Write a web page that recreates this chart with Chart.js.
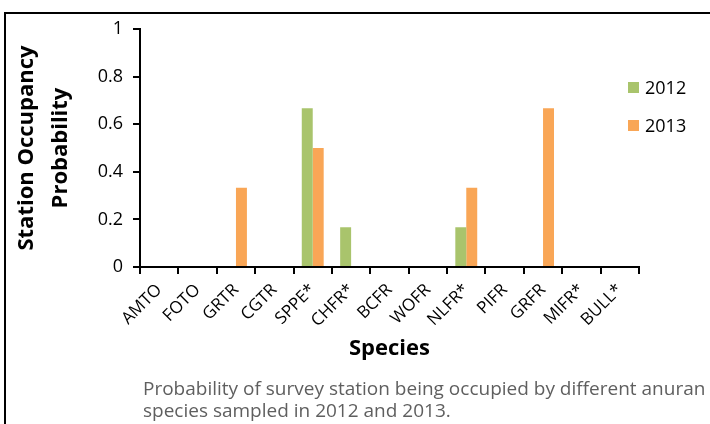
<!DOCTYPE html>
<html>
<head>
<meta charset="utf-8">
<script src="https://cdn.jsdelivr.net/npm/chart.js@4.4.1/dist/chart.umd.min.js"></script>
<style>
  body { margin: 0; background: #fff; font-family: 'Open Sans', sans-serif; }
  #wrap { position: relative; width: 710px; height: 424px; overflow: hidden; }
  #cadre { position: absolute; left: 4px; top: 12px; width: 800px; height: 500px;
           border-top: 2px solid #000; border-left: 2px solid #000; }
  #grafico { position: absolute; left: 0; top: 0; }
  #legenda { position: absolute; left: 628px; top: 76px; }
  .item { display: flex; align-items: center; height: 22px; margin-bottom: 16px; font-size: 18px; color: #000; }
  .caixa { width: 11px; height: 11px; margin-right: 6px; }
  #legenda-texto { position: absolute; left: 143px; top: 377px; font-size: 19px; line-height: 22px; color: #5f5f5f; white-space: nowrap; }
</style>
</head>
<body>
<div id="wrap">
  <div id="cadre"></div>
  <canvas id="grafico" width="710" height="424"></canvas>
  <div id="legenda"></div>
  <div id="legenda-texto">Probability of survey station being occupied by different anuran<br>species sampled in 2012 and 2013.</div>
</div>
<script>
// Dados
const especies = ['AMTO', 'FOTO', 'GRTR', 'CGTR', 'SPPE*', 'CHFR*', 'BCFR', 'WOFR', 'NLFR*', 'PIFR', 'GRFR', 'MIFR*', 'BULL*'];
const prob2012 = [0, 0, 0, 0, 0.667, 0.167, 0, 0, 0.167, 0, 0, 0, 0];
const prob2013 = [0, 0, 0.333, 0, 0.5, 0, 0, 0, 0.333, 0, 0.667, 0, 0];
const anos = ['2012', '2013'];
const cores = ['#A9C46C', '#F9A656'];

const fonte = 'Open Sans';

const datasets = [prob2012, prob2013].map((valores, i) => ({
  label: anos[i],
  data: valores,
  backgroundColor: cores[i],
  borderWidth: 0
}));

const grafico = new Chart(document.getElementById('grafico'), {
  type: 'bar',
  data: { labels: especies, datasets },
  options: {
    responsive: false,
    animation: false,
    devicePixelRatio: 1,
    layout: { padding: { left: 0, right: 71, top: 29, bottom: 62 } },
    datasets: { bar: { categoryPercentage: 0.571, barPercentage: 1 } },
    plugins: { legend: { display: false }, tooltip: { enabled: false } },
    scales: {
      x: {
        grid: { offset: true, drawOnChartArea: false, drawTicks: true, tickLength: 7, color: '#000', lineWidth: 2 },
        border: { color: '#000', width: 2 },
        ticks: { autoSkip: false, minRotation: 45, maxRotation: 45, padding: 6, color: '#000', font: { family: fonte, size: 17 } },
        title: { display: true, text: 'Species', color: '#000', font: { family: fonte, size: 22, weight: 'bold' }, padding: { top: 0, bottom: 0 } },
        afterFit: s => { s.height = 95; }
      },
      y: {
        min: 0,
        max: 1,
        grid: { drawOnChartArea: false, drawTicks: true, tickLength: 7, color: '#000', lineWidth: 2 },
        border: { color: '#000', width: 2 },
        ticks: { stepSize: 0.2, padding: 10, color: '#000', font: { family: fonte, size: 18 },
                 callback: v => String(Math.round(v * 10) / 10) },
        title: { display: true, text: ['Station Occupancy', 'Probability'], color: '#000',
                 font: { family: fonte, size: 22, weight: 'bold', lineHeight: 1.55 }, padding: { top: 10, bottom: 0 } },
        afterFit: s => { s.width = 140; }
      }
    }
  }
});

// Legenda em HTML
const legenda = document.getElementById('legenda');
datasets.forEach(d => {
  const item = document.createElement('div');
  item.className = 'item';
  item.innerHTML = `<span class="caixa" style="background:${d.backgroundColor}"></span>${d.label}`;
  legenda.appendChild(item);
});
</script>
</body>
</html>
